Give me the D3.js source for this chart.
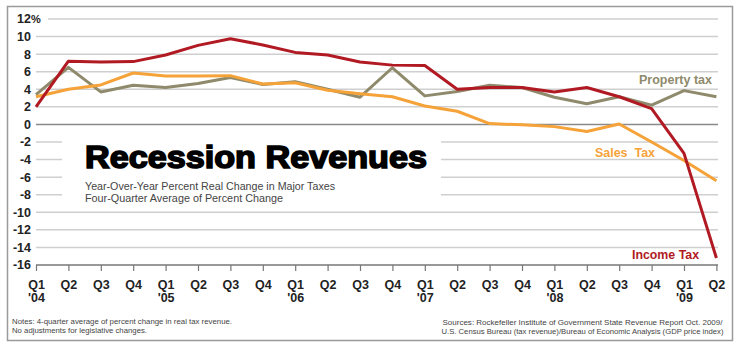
<!DOCTYPE html>
<html>
<head>
<meta charset="utf-8">
<script src="https://cdn.jsdelivr.net/npm/d3@7"></script>
<style>
  body { margin: 0; background: #fff; }
  svg { display: block; }
</style>
</head>
<body>
<div id="container"></div>
<script>
// quarters, Q1 2004 .. Q2 2009
const quarters = ['Q1', 'Q2', 'Q3', 'Q4', 'Q1', 'Q2', 'Q3', 'Q4', 'Q1', 'Q2', 'Q3',
  'Q4', 'Q1', 'Q2', 'Q3', 'Q4', 'Q1', 'Q2', 'Q3', 'Q4', 'Q1', 'Q2'];
const years = ["'04", '', '', '', "'05", '', '', '', "'06", '', '', '',
  "'07", '', '', '', "'08", '', '', '', "'09", ''];

const incomeTax = [2.0, 7.2, 7.1, 7.15, 7.9, 9.0, 9.75, 9.05, 8.2, 7.9, 7.1, 6.75,
  6.7, 4.0, 4.2, 4.2, 3.7, 4.2, 3.15, 1.8, -3.3, -15.2];
const propertyTax = [3.4, 6.5, 3.7, 4.45, 4.2, 4.65, 5.35, 4.55, 4.85, 4.0, 3.1, 6.45,
  3.25, 3.75, 4.45, 4.2, 3.1, 2.35, 3.15, 2.2, 3.85, 3.15];
const salesTax = [3.15, 4.0, 4.5, 5.85, 5.5, 5.5, 5.55, 4.6, 4.75, 3.9, 3.5, 3.15,
  2.1, 1.5, 0.1, -0.05, -0.25, -0.8, 0.05, -2.0, -4.1, -6.4];

const yTicks = [12, 10, 8, 6, 4, 2, 0, -2, -4, -6, -8, -10, -12, -14, -16];

const w = 740;
const h = 348;

const idx = d3.range(quarters.length);

const xScale = d3.scalePoint().domain(idx).range([36, 716.4]);
const yScale = d3.scaleLinear().domain([-16, 12]).range([265, 19]);

const svg = d3.select('#container')
  .append('svg')
  .attr('width', w)
  .attr('height', h)
  .style('font-family', '"Liberation Sans", Arial, sans-serif');

svg.append('rect')
  .attr('x', 7.5).attr('y', 6.5)
  .attr('width', 725).attr('height', 334)
  .attr('fill', '#fff')
  .attr('stroke', '#9a9a9a')
  .attr('stroke-width', 1.5);

// gridlines
svg.append('g')
  .selectAll('line')
  .data(yTicks.filter(d => d !== -16))
  .enter()
  .append('line')
  .attr('x1', d => (d === 12 ? 48 : 36))
  .attr('x2', 718)
  .attr('y1', d => yScale(d))
  .attr('y2', d => yScale(d))
  .attr('stroke', d => (d === 0 ? '#8a8a8a' : '#cfcfcf'))
  .attr('stroke-width', 1.5);

// y labels
const yLab = svg.append('g')
  .attr('font-size', 12.5)
  .attr('font-weight', 'bold')
  .attr('fill', '#222');
yLab.selectAll('text')
  .data(yTicks)
  .enter()
  .append('text')
  .attr('x', 31)
  .attr('y', d => yScale(d))
  .attr('dy', '0.35em')
  .attr('text-anchor', 'end')
  .text(d => d);
yLab.append('text')
  .attr('x', 31)
  .attr('y', yScale(12))
  .attr('dy', '0.35em')
  .attr('font-size', 11)
  .text('%');

// title box
svg.append('rect')
  .attr('x', 62).attr('y', 134)
  .attr('width', 379).attr('height', 72)
  .attr('fill', '#fff');

svg.append('text')
  .attr('x', 85).attr('y', 168)
  .attr('font-size', 31)
  .attr('font-weight', 'bold')
  .attr('stroke', '#000')
  .attr('stroke-width', 1.6)
  .attr('textLength', 342)
  .attr('lengthAdjust', 'spacingAndGlyphs')
  .text('Recession Revenues');

svg.append('text')
  .attr('x', 85).attr('y', 190)
  .attr('font-size', 10.5)
  .attr('fill', '#444')
  .attr('textLength', 250)
  .attr('lengthAdjust', 'spacingAndGlyphs')
  .text('Year-Over-Year Percent Real Change in Major Taxes');
svg.append('text')
  .attr('x', 85).attr('y', 202)
  .attr('font-size', 10.5)
  .attr('fill', '#444')
  .attr('textLength', 198)
  .attr('lengthAdjust', 'spacingAndGlyphs')
  .text('Four-Quarter Average of Percent Change');

// x axis
const xAxis = d3.axisBottom(xScale)
  .tickSize(6)
  .tickFormat(i => quarters[i]);

const gx = svg.append('g')
  .attr('transform', `translate(0, ${yScale(-16)})`)
  .call(xAxis);
gx.select('.domain')
  .attr('d', `M36,0H718`)
  .attr('stroke', '#777')
  .attr('stroke-width', 1.5);
gx.selectAll('.tick line').attr('stroke', '#777').attr('stroke-width', 1.2);
gx.selectAll('.tick text')
  .attr('y', 15.5)
  .attr('font-size', 12.5)
  .attr('font-weight', 'bold')
  .attr('fill', '#222')
  .attr('font-family', '"Liberation Sans", Arial, sans-serif');
gx.selectAll('.tick')
  .append('text')
  .attr('y', 28.5)
  .attr('dy', '0.71em')
  .attr('font-size', 12.5)
  .attr('font-weight', 'bold')
  .attr('fill', '#222')
  .attr('font-family', '"Liberation Sans", Arial, sans-serif')
  .text(i => years[i]);

// lines
const line = d3.line()
  .x((d, i) => xScale(i))
  .y(d => yScale(d));

const series = [
  { values: propertyTax, color: '#8e8a6b' },
  { values: salesTax, color: '#f5a238' },
  { values: incomeTax, color: '#b11a23' }
];

svg.append('g')
  .selectAll('path')
  .data(series)
  .enter()
  .append('path')
  .attr('d', d => line(d.values))
  .attr('fill', 'none')
  .attr('stroke', d => d.color)
  .attr('stroke-width', 3)
  .attr('stroke-linejoin', 'round');

// series labels
const labels = [
  { text: 'Property tax', x: 639, y: 84, len: 73, color: '#8e8a6b' },
  { text: 'Sales  Tax', x: 595, y: 157, len: 60, color: '#f5a238' },
  { text: 'Income Tax', x: 632, y: 259, len: 67, color: '#b11a23' }
];
svg.append('g')
  .selectAll('text')
  .data(labels)
  .enter()
  .append('text')
  .attr('x', d => d.x)
  .attr('y', d => d.y)
  .attr('font-size', 13)
  .attr('font-weight', 'bold')
  .attr('fill', d => d.color)
  .attr('textLength', d => d.len)
  .attr('lengthAdjust', 'spacingAndGlyphs')
  .style('white-space', 'pre')
  .text(d => d.text);

// notes & sources
const foot = svg.append('g')
  .attr('font-size', 7.5)
  .attr('fill', '#444');
foot.append('text').attr('x', 12).attr('y', 324)
  .attr('textLength', 220).attr('lengthAdjust', 'spacingAndGlyphs')
  .text('Notes: 4-quarter average of percent change in real tax revenue.');
foot.append('text').attr('x', 12).attr('y', 332.5)
  .attr('textLength', 135).attr('lengthAdjust', 'spacingAndGlyphs')
  .text('No adjustments for legislative changes.');
foot.append('text').attr('x', 442.5).attr('y', 325)
  .attr('textLength', 280).attr('lengthAdjust', 'spacingAndGlyphs')
  .text('Sources: Rockefeller Institute of Government State Revenue Report Oct. 2009/');
foot.append('text').attr('x', 441.5).attr('y', 333.5)
  .attr('textLength', 282).attr('lengthAdjust', 'spacingAndGlyphs')
  .text('U.S. Census Bureau (tax revenue)/Bureau of Economic Analysis (GDP price index)');
</script>
</body>
</html>
